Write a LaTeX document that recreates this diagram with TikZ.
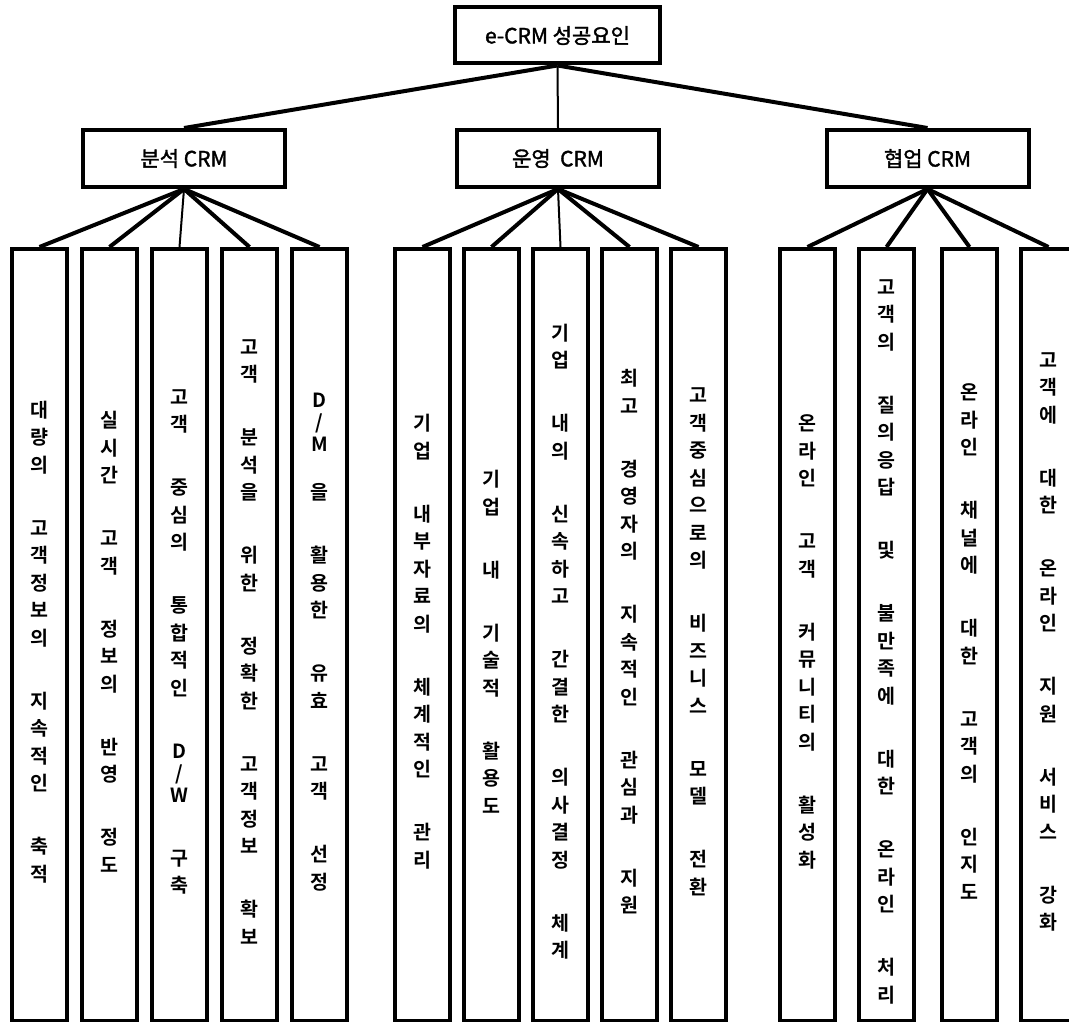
\documentclass[tikz,border=0pt]{standalone}
\usepackage{fontspec}
\newfontfamily\kr{Noto Sans CJK KR}[BoldFont={Noto Sans CJK KR Bold}]
\newfontfamily\krhead{Noto Sans CJK KR}[FakeBold=1.6]
\newcommand\kgap{\\[35.5pt]}
\newcommand\ktight{\\[-5.5pt]}
\begin{document}
\begin{tikzpicture}[x=1pt,y=-1pt,
  box/.style={draw, line width=4pt, fill=white, inner sep=0pt, font=\krhead\fontsize{21}{25}\selectfont},
  leaf/.style={draw, line width=3.5pt, fill=white, minimum width=55pt, minimum height=772pt, inner sep=0pt, anchor=north},
  ltext/.style={inner sep=0pt, align=center, yshift=-7pt, font=\kr\bfseries\fontsize{19.5}{27.5}\selectfont},
  thk/.style={line width=4pt},
  thn/.style={line width=2pt}]
\useasboundingbox (0,0) rectangle (1069,1022);
% top and second level
\node[box, minimum width=205pt, minimum height=56pt] (top) at (557.5,35.5) {e-CRM 성공요인};
\node[box, minimum width=202pt, minimum height=57pt] (a) at (184,158.5) {분석 CRM};
\node[box, minimum width=202pt, minimum height=57pt] (o) at (558,158.5) {운영\ \ CRM};
\node[box, minimum width=202pt, minimum height=57pt] (c) at (927.5,158.5) {협업 CRM};
% leaf boxes
\foreach \n/\x in {a1/39.5,a2/109.5,a3/179.5,a4/249.5,a5/319.5,
                   o1/422.5,o2/491.5,o3/560.5,o4/629.5,o5/698.5,
                   c1/807.5,c2/886.5,c3/969.5,c4/1048.5}
  \node[leaf] (\n) at (\x,247) {};
% leaf texts: analysis CRM
\node[ltext] (a1t) at (a1.center) {대\\량\\의\kgap 고\\객\\정\\보\\의\kgap 지\\속\\적\\인\kgap 축\\적};
\node[ltext] (a2t) at (a2.center) {실\\시\\간\kgap 고\\객\kgap 정\\보\\의\kgap 반\\영\kgap 정\\도};
\node[ltext] (a3t) at (a3.center) {고\\객\kgap 중\\심\\의\kgap 통\\합\\적\\인\kgap D\ktight /\ktight W\kgap 구\\축};
\node[ltext] (a4t) at (a4.center) {고\\객\kgap 분\\석\\을\kgap 위\\한\kgap 정\\확\\한\kgap 고\\객\\정\\보\kgap 확\\보};
\node[ltext] (a5t) at (a5.center) {D\ktight /\ktight M\\[21pt]을\kgap 활\\용\\한\kgap 유\\효\kgap 고\\객\kgap 선\\정};
% leaf texts: operational CRM
\node[ltext] (o1t) at (o1.center) {기\\업\kgap 내\\부\\자\\료\\의\kgap 체\\계\\적\\인\kgap 관\\리};
\node[ltext] (o2t) at (o2.center) {기\\업\kgap 내\kgap 기\\술\\적\kgap 활\\용\\도};
\node[ltext] (o3t) at (o3.center) {기\\업\kgap 내\\의\kgap 신\\속\\하\\고\kgap 간\\결\\한\kgap 의\\사\\결\\정\kgap 체\\계};
\node[ltext] (o4t) at (o4.center) {최\\고\kgap 경\\영\\자\\의\kgap 지\\속\\적\\인\kgap 관\\심\\과\kgap 지\\원};
\node[ltext] (o5t) at (o5.center) {고\\객\\중\\심\\으\\로\\의\kgap 비\\즈\\니\\스\kgap 모\\델\kgap 전\\환};
% leaf texts: collaborative CRM
\node[ltext] (c1t) at (c1.center) {온\\라\\인\kgap 고\\객\kgap 커\\뮤\\니\\티\\의\kgap 활\\성\\화};
\node[ltext] (c2t) at (c2.center) {고\\객\\의\kgap 질\\의\\응\\답\kgap 및\kgap 불\\만\\족\\에\kgap 대\\한\kgap 온\\라\\인\kgap 처\\리};
\node[ltext] (c3t) at (c3.center) {온\\라\\인\kgap 채\\널\\에\kgap 대\\한\kgap 고\\객\\의\kgap 인\\지\\도};
\node[ltext] (c4t) at (c4.center) {고\\객\\에\kgap 대\\한\kgap 온\\라\\인\kgap 지\\원\kgap 서\\비\\스\kgap 강\\화};
% connectors
\draw[thk] (top.south) -- (a.north);
\draw[thn] (top.south) -- (o.north);
\draw[thk] (top.south) -- (c.north);
\foreach \n in {a1,a2,a4,a5} \draw[thk] (a.south) -- (\n.north);
\draw[thn] (a.south) -- (a3.north);
\foreach \n in {o1,o2,o4,o5} \draw[thk] (o.south) -- (\n.north);
\draw[thn] (o.south) -- (o3.north);
\foreach \n in {c1,c2,c3,c4} \draw[thk] (c.south) -- (\n.north);
\end{tikzpicture}
\end{document}
